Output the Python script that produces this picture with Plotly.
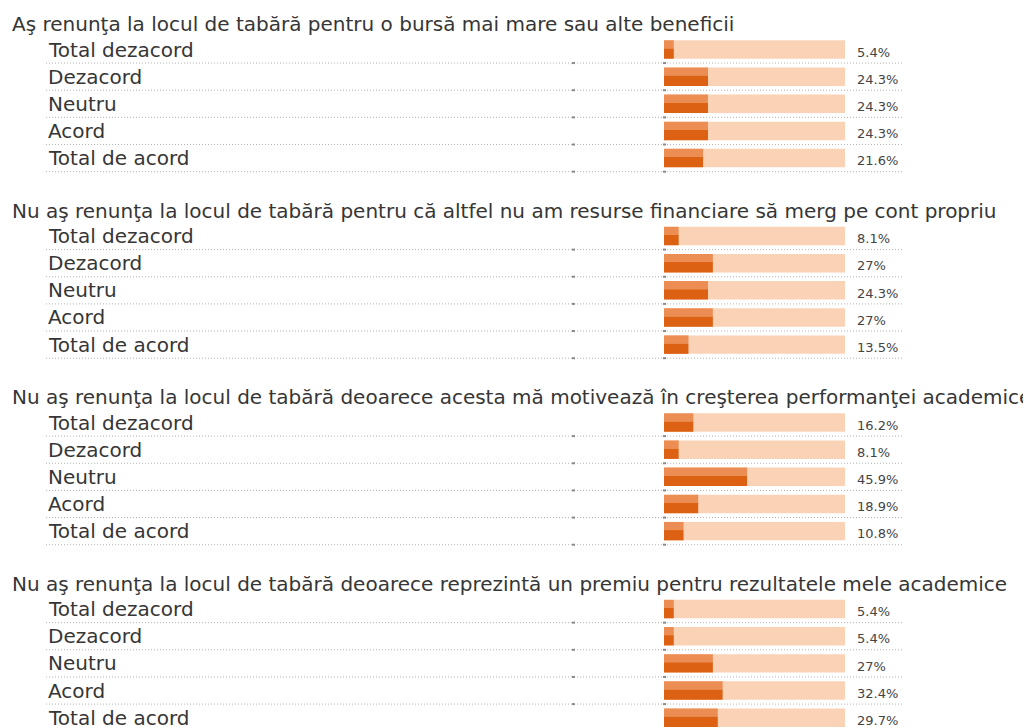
import plotly.graph_objects as go

# ---- data ----
questions = [
    "Aş renunţa la locul de tabără pentru o bursă mai mare sau alte beneficii",
    "Nu aş renunţa la locul de tabără pentru că altfel nu am resurse financiare să merg pe cont propriu",
    "Nu aş renunţa la locul de tabără deoarece acesta mă motivează în creşterea performanţei academice",
    "Nu aş renunţa la locul de tabără deoarece reprezintă un premiu pentru rezultatele mele academice",
]
answers = ["Total dezacord", "Dezacord", "Neutru", "Acord", "Total de acord"]
q1_values = [5.4, 24.3, 24.3, 24.3, 21.6]
q2_values = [8.1, 27, 24.3, 27, 13.5]
q3_values = [16.2, 8.1, 45.9, 18.9, 10.8]
q4_values = [5.4, 5.4, 27, 32.4, 29.7]
all_values = [q1_values, q2_values, q3_values, q4_values]

# ---- layout constants (page pixels; the html body adds an 8px margin) ----
BODY = 8
W, H = 1031 - BODY, 728 - BODY
ROW_PX = 27.15          # pixel height of one row unit
FIRST_ROW_PX = 49.5 - BODY
SECTION_STEP = 6.87     # rows between sections
TITLE_OFFSET = -0.94
BAR_X0, BAR_X1 = 664 - BODY, 845 - BODY
LINE_X0, LINE_X1 = 46 - BODY, 902 - BODY
TITLE_X = 12 - BODY - 2
LABEL_X = 48 - BODY - 2
PCT_X = 857 - BODY - 2
FONT = "DejaVu Sans"
TEXT_COL = "#363636"

y_top = -FIRST_ROW_PX / ROW_PX
y_bot = (H - FIRST_ROW_PX) / ROW_PX

ys, vals, labels = [], [], []
for s, v in enumerate(all_values):
    for r, val in enumerate(v):
        ys.append(s * SECTION_STEP + r)
        vals.append(val)
        labels.append(answers[r])

fig = go.Figure()
# background track
fig.add_trace(go.Bar(orientation="h", y=ys, x=[100] * len(ys), offset=-0.34, width=0.68,
                     marker=dict(color="#fad2b6", line=dict(width=0)), hoverinfo="skip"))
# light top part
fig.add_trace(go.Bar(orientation="h", y=ys, x=vals, offset=-0.34, width=0.30,
                     marker=dict(color="#ec8e54", line=dict(width=0)), hoverinfo="skip"))
# dark bottom part
fig.add_trace(go.Bar(orientation="h", y=ys, x=vals, offset=-0.04, width=0.38,
                     marker=dict(color="#dc6112", line=dict(width=0)), hoverinfo="skip"))

annotations = []
shapes = []
for s, q in enumerate(questions):
    annotations.append(dict(x=TITLE_X / W, xref="paper", y=s * SECTION_STEP + TITLE_OFFSET, yref="y",
                            text=q, showarrow=False, xanchor="left", yanchor="middle",
                            font=dict(family=FONT, size=20, color=TEXT_COL)))
for y, val, lab in zip(ys, vals, labels):
    annotations.append(dict(x=LABEL_X / W, xref="paper", y=y + 0.0, yref="y", text=lab,
                            showarrow=False, xanchor="left", yanchor="middle",
                            font=dict(family=FONT, size=20, color=TEXT_COL)))
    annotations.append(dict(x=PCT_X / W, xref="paper", y=y + 0.1, yref="y", text=f"{val:g}%",
                            showarrow=False, xanchor="left", yanchor="middle",
                            font=dict(family=FONT, size=13, color="#444444")))
    shapes.append(dict(type="line", xref="paper", yref="y", x0=LINE_X0 / W, x1=LINE_X1 / W,
                       y0=y + 0.5, y1=y + 0.5, line=dict(color="#b4b4b4", width=1, dash="1px,2px")))
    for px in (573 - BODY, 664 - BODY):
        shapes.append(dict(type="line", xref="paper", yref="y", x0=(px - 1) / W, x1=(px + 2) / W,
                           y0=y + 0.5, y1=y + 0.5, line=dict(color="#8a8a8a", width=2)))

fig.update_layout(
    width=W, height=H,
    margin=dict(l=0, r=0, t=0, b=0),
    paper_bgcolor="white", plot_bgcolor="rgba(0,0,0,0)",
    barmode="overlay", showlegend=False,
    xaxis=dict(domain=[BAR_X0 / W, BAR_X1 / W], range=[0, 100], visible=False, fixedrange=True),
    yaxis=dict(range=[y_bot, y_top], visible=False, fixedrange=True),
    annotations=annotations, shapes=shapes,
)
fig.write_html("out.html")
